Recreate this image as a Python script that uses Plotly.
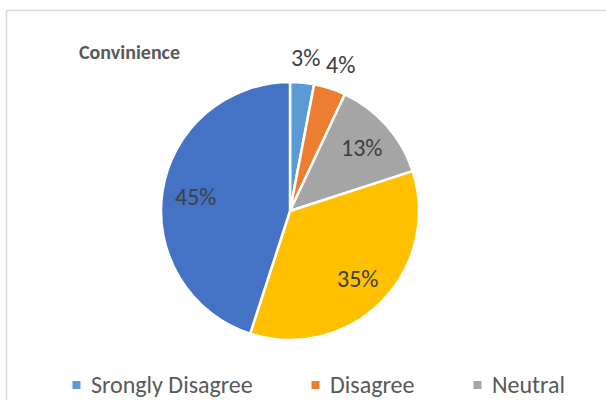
import math
import plotly.graph_objects as go

# Survey responses for "Convinience"
categories = ["Srongly Disagree", "Disagree", "Neutral", "Agree", "Strongly Agree"]
shares = [3, 4, 13, 35, 45]
colors = ["#5B9BD5", "#ED7D31", "#A5A5A5", "#FFC000", "#4472C4"]
label_outside = [True, True, False, False, False]

W, H = 606, 400
FONT = "Calibri, Carlito, Lato, sans-serif"


def px(x):
    return x / W


def py(y):
    return 1 - y / H


# pie geometry (pixels)
cx, cy, r = 290, 211, 129

fig = go.Figure(
    go.Pie(
        labels=categories,
        values=shares,
        sort=False,
        direction="clockwise",
        rotation=0,
        marker=dict(colors=colors, line=dict(color="white", width=2.5)),
        textinfo="none",
        domain=dict(x=[px(cx - r), px(cx + r)], y=[py(cy + r), py(cy - r)]),
        showlegend=False,
        hoverinfo="label+percent",
    )
)

shapes = [
    # chart-area frame (left and top edges)
    dict(type="line", xref="paper", yref="paper", x0=px(6.5), x1=px(6.5),
         y0=py(402), y1=py(10.5), line=dict(color="#D9D9D9", width=1.5)),
    dict(type="line", xref="paper", yref="paper", x0=px(6.5), x1=px(606),
         y0=py(10.5), y1=py(10.5), line=dict(color="#D9D9D9", width=1.5)),
]

annotations = [
    dict(text="<b>Convinience</b>", xref="paper", yref="paper", x=px(77), y=py(52),
         xanchor="left", yanchor="middle", showarrow=False,
         font=dict(family=FONT, size=20, color="#595959")),
]

# percentage labels, placed along each slice's mid-angle
total = sum(shares)
cum = 0
for v, outside in zip(shares, label_outside):
    mid = (cum + v / 2) / total * 2 * math.pi
    cum += v
    rad = r + 25 if outside else 0.74 * r
    lx = cx + rad * math.sin(mid)
    ly = cy - rad * math.cos(mid)
    if outside:
        # push outside labels sideways so neighbours don't touch
        lx += 8 * math.sin(mid)
    annotations.append(dict(text=f"{v / total * 100:.0f}%", xref="paper", yref="paper",
                            x=px(lx), y=py(ly), xanchor="center", yanchor="middle",
                            showarrow=False,
                            font=dict(family=FONT, size=24, color="#404040")))

# legend row (first three entries)
legend_x = [72.5, 311.5, 473.5]
legend_y = 384
for name, col, lx in zip(categories[:3], colors[:3], legend_x):
    shapes.append(dict(type="rect", xref="paper", yref="paper",
                       x0=px(lx), x1=px(lx + 8), y0=py(legend_y + 5), y1=py(legend_y - 3),
                       fillcolor=col, line=dict(width=0)))
    annotations.append(dict(text=name, xref="paper", yref="paper", x=px(lx + 16), y=py(legend_y),
                            xanchor="left", yanchor="middle", showarrow=False,
                            font=dict(family=FONT, size=24, color="#595959")))

fig.update_layout(
    width=W,
    height=H,
    margin=dict(l=0, r=0, t=0, b=0),
    paper_bgcolor="white",
    plot_bgcolor="white",
    shapes=shapes,
    annotations=annotations,
)

fig.write_html("out.html")
